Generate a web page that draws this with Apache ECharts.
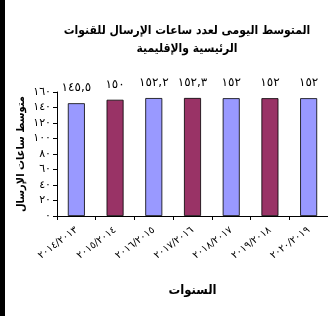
<!DOCTYPE html>
<html><head><meta charset="utf-8">
<script src="https://cdn.jsdelivr.net/npm/echarts@6/dist/echarts.min.js"></script>
<style>html,body{margin:0;padding:0;background:#fff}#c{width:328px;height:316px}</style>
</head><body><div id="c"></div>
<script>
var categories = ['2014/2013','2015/2014','2016/2015','2017/2016','2018/2017','2019/2018','2020/2019'];
var values = [145.5, 150, 152.2, 152.3, 152, 152, 152];
var barColors = ['#9999FF','#993366','#9999FF','#993366','#9999FF','#993366','#9999FF'];
var yTicks = {min: 0, max: 160, interval: 20};
var titleLines = ['المتوسط اليومى لعدد ساعات الإرسال للقنوات','الرئيسية والإقليمية'];
var yName = 'متوسط ساعات الإرسال';
var xName = 'السنوات';

function ar(s){ return String(s).replace(/[0-9]/g, function(d){ return '٠١٢٣٤٥٦٧٨٩'[+d]; }).replace('.', ','); }
var F = 'DejaVu Sans';
var FC = '"DejaVu Sans Condensed", "DejaVu Sans"';
var chart = echarts.init(document.getElementById('c'));
chart.setOption({
  animation: false,
  backgroundColor: '#fff',
  graphic: [
    {type: 'rect', shape: {x: 0, y: 0, width: 5, height: 316}, style: {fill: '#000'}},
    {type: 'text', x: 187, y: 25, style: {text: titleLines[0], align: 'center', verticalAlign: 'top', font: 'bold 12px ' + FC, fill: '#000'}},
    {type: 'text', x: 187, y: 43, style: {text: titleLines[1], align: 'center', verticalAlign: 'top', font: 'bold 12px ' + FC, fill: '#000'}}
  ],
  grid: {left: 57, top: 92, bottom: 100, width: 275},
  xAxis: {
    type: 'category', data: categories,
    name: xName, nameLocation: 'middle', nameGap: 68,
    nameTextStyle: {fontFamily: FC, fontSize: 13, fontWeight: 'bold', color: '#000'},
    axisLine: {lineStyle: {color: '#000', width: 1}},
    axisTick: {show: true, length: 4, lineStyle: {color: '#000'}},
    axisLabel: {rotate: 37, fontFamily: F, fontSize: 10, color: '#000', margin: 13, formatter: function(v){ return ar(v); }}
  },
  yAxis: {
    type: 'value', min: yTicks.min, max: yTicks.max, interval: yTicks.interval,
    name: yName, nameLocation: 'middle', nameRotate: 90, nameGap: 30, nameMoveOverlap: false,
    nameTextStyle: {fontFamily: FC, fontSize: 11, fontWeight: 'bold', color: '#000'},
    axisLine: {show: true, lineStyle: {color: '#000', width: 1}},
    axisTick: {show: true, length: 4, lineStyle: {color: '#000'}},
    splitLine: {show: false},
    axisLabel: {fontFamily: F, fontSize: 11, color: '#000', margin: 6, formatter: function(v){ return ar(v); }}
  },
  series: [{
    type: 'bar', barWidth: 17,
    data: values.map(function(v, i){ return {value: v, itemStyle: {color: barColors[i], borderColor: '#000', borderWidth: 0.8}}; }),
    label: {show: true, position: 'top', distance: 9, fontFamily: F, fontSize: 12, color: '#000', formatter: function(p){ return ar(p.value); }}
  }]
});
</script></body></html>
